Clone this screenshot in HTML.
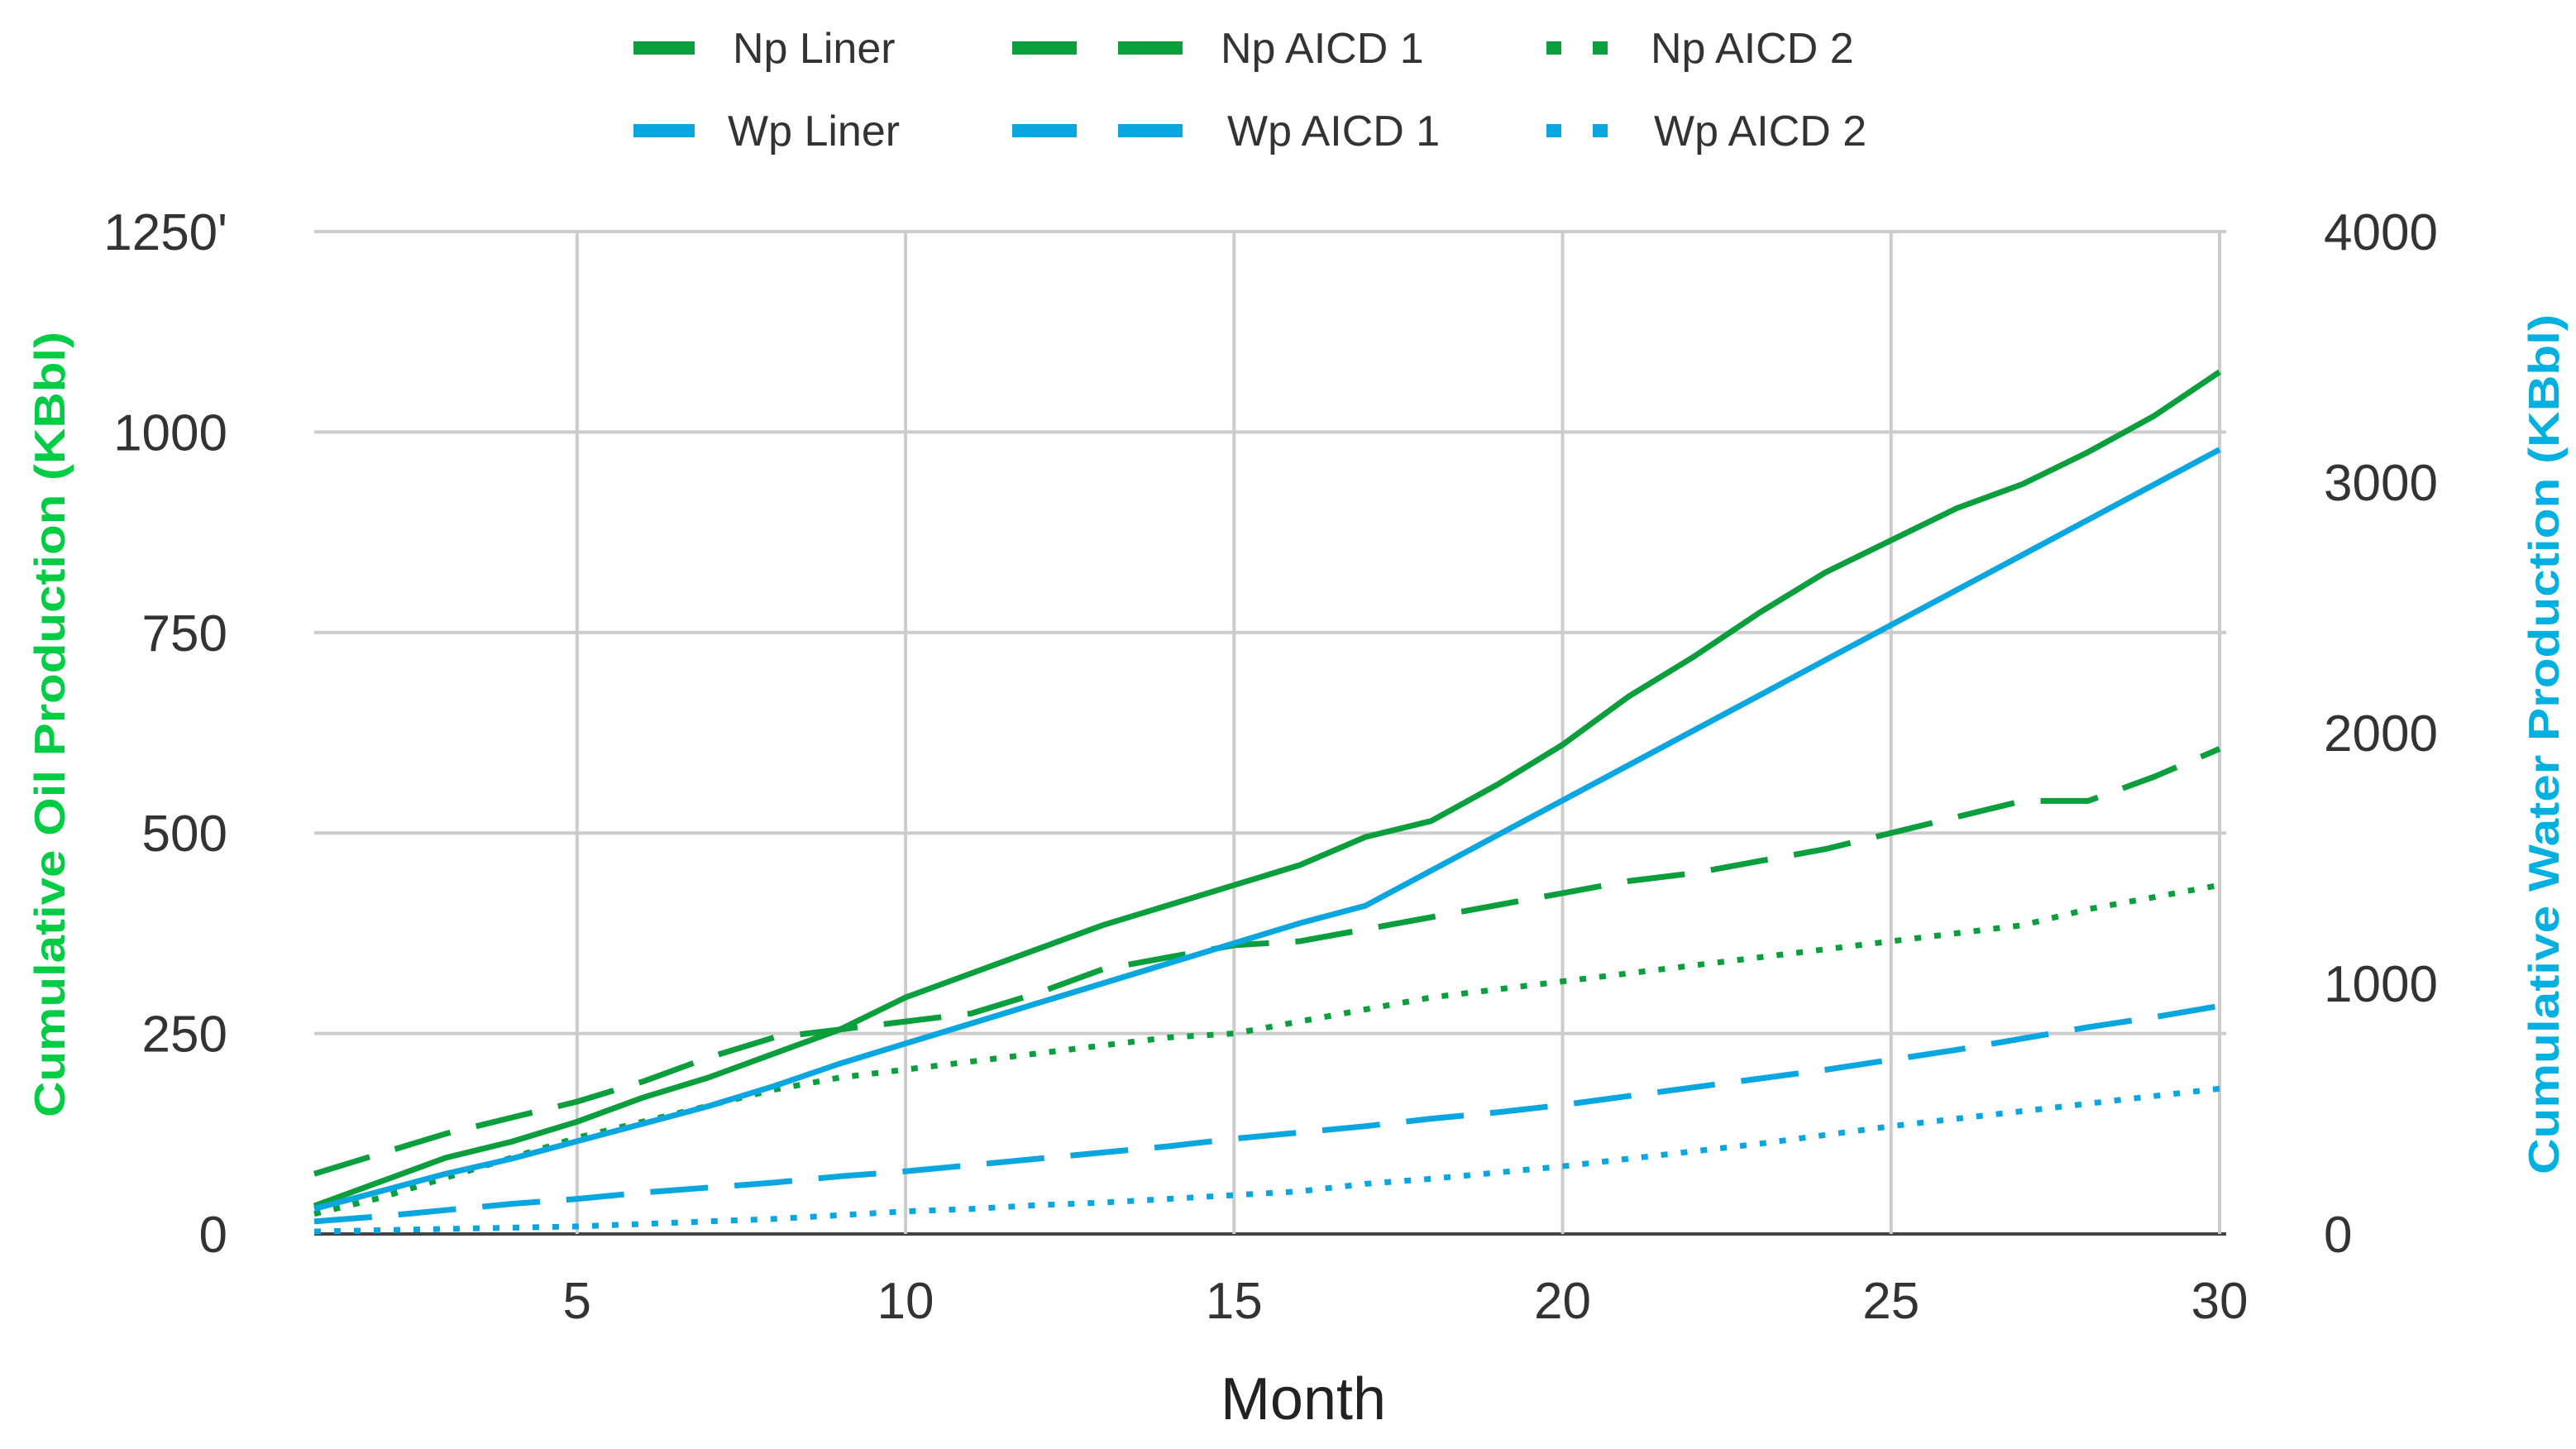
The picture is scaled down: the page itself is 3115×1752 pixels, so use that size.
<!DOCTYPE html>
<html><head><meta charset="utf-8"><style>
html,body{margin:0;padding:0;background:#fff;}
svg{display:block;font-family:"Liberation Sans",sans-serif;}
</style></head><body>
<svg id="chart" width="3115" height="1752" viewBox="0 0 3115 1752" xmlns="http://www.w3.org/2000/svg">
<g id="grid"></g>
<g id="series"></g>
<g id="axes"></g>
<g id="legend"></g>
</svg>
<script>
const months = [1,2,3,4,5,6,7,8,9,10,11,12,13,14,15,16,17,18,19,20,21,22,23,24,25,26,27,28,29,30];
const npLiner = [35,65,95,115,140,170,195,225,255,295,325,355,385,410,435,460,495,515,560,610,670,720,775,825,865,905,935,975,1020,1075];
const npAicd1 = [75,100,125,145,165,190,220,245,255,265,275,300,330,345,360,365,380,395,410,425,440,450,465,480,500,520,540,540,570,605];
const npAicd2 = [25,45,70,95,120,140,160,180,195,205,215,225,235,245,250,265,280,295,305,315,325,335,345,355,365,375,385,405,420,435];
const wpLiner = [100,170,240,300,370,440,510,590,680,760,840,920,1000,1080,1160,1240,1310,1450,1590,1730,1870,2010,2150,2290,2430,2570,2710,2850,2990,3130];
const wpAicd1 = [50,70,95,120,140,165,185,205,230,250,275,300,325,350,380,405,430,460,485,515,550,585,620,655,695,735,780,825,865,910];
const wpAicd2 = [10,15,20,25,30,40,50,60,75,90,100,115,125,140,155,170,200,220,245,270,300,330,360,395,430,460,490,520,550,580];
const xTicks = [5,10,15,20,25,30];
const leftTicks = [0,250,500,750,1000,1250];
const leftTickLabels = ["0","250","500","750","1000","1250'"];
const rightTicks = [0,1000,2000,3000,4000];

const NS="http://www.w3.org/2000/svg";
const L=380,R=2684,T=280,B=1492;
const xS=m=>L+(m-1)/29*(R-L);
const yL=v=>B-v/1250*(B-T);
const yR=v=>B-v/4000*(B-T);
function mk(tag,attrs,parent,text){const e=document.createElementNS(NS,tag);for(const k in attrs)e.setAttribute(k,attrs[k]);if(text!==undefined)e.textContent=text;parent.appendChild(e);return e;}
const grid=document.getElementById('grid'),axes=document.getElementById('axes'),series=document.getElementById('series'),legend=document.getElementById('legend');

leftTicks.forEach((v,i)=>{
  const g=mk('line',{x1:L,x2:R+8,y1:yL(v),y2:yL(v),stroke:v===0?'#444':'#cccccc','stroke-width':4},grid);
  
  
  const t=mk('text',{x:275,y:yL(v)+22,'text-anchor':'end','font-size':62,fill:'#333'},axes,leftTickLabels[i]);
  
  
});
xTicks.forEach(m=>{
  const g=mk('line',{x1:xS(m),x2:xS(m),y1:T,y2:B,stroke:'#cccccc','stroke-width':4},grid);
  
  
  const t=mk('text',{x:xS(m),y:1594,'text-anchor':'middle','font-size':62,fill:'#333'},axes,String(m));
  
  
});
rightTicks.forEach(v=>{
  const t=mk('text',{x:2810,y:yR(v)+22,'text-anchor':'start','font-size':62,fill:'#333'},axes,String(v));
  
  
});
let t=mk('text',{x:1576,y:1716,'text-anchor':'middle','font-size':72,fill:'#222'},axes,'Month');


t=mk('text',{x:0,y:0,'text-anchor':'middle','font-size':52,'font-weight':'bold',fill:'#00cc44',transform:'translate(78,876) rotate(-90)',textLength:950,lengthAdjust:'spacingAndGlyphs'},axes,'Cumulative Oil Production (KBbl)');


t=mk('text',{x:0,y:0,'text-anchor':'middle','font-size':52,'font-weight':'bold',fill:'#00b0e0',transform:'translate(3094,900) rotate(-90)',textLength:1040,lengthAdjust:'spacingAndGlyphs'},axes,'Cumulative Water Production (KBbl)');



const G='#0a9e3c',Bl='#0aa6e0';
const defs=[
 {d:npLiner,y:yL,c:G,dash:null,name:'np-liner-line'},
 {d:npAicd1,y:yL,c:G,dash:'70 32',name:'np-aicd1-line'},
 {d:npAicd2,y:yL,c:G,dash:'8 16',name:'np-aicd2-line'},
 {d:wpLiner,y:yR,c:Bl,dash:null,name:'wp-liner-line'},
 {d:wpAicd1,y:yR,c:Bl,dash:'70 32',name:'wp-aicd1-line'},
 {d:wpAicd2,y:yR,c:Bl,dash:'8 16',name:'wp-aicd2-line'}];
defs.forEach(s=>{
  const pts=months.map((m,i)=>xS(m).toFixed(1)+','+s.y(s.d[i]).toFixed(1)).join(' ');
  const a={points:pts,fill:'none',stroke:s.c,'stroke-width':7,'stroke-linejoin':'round'};
  if(s.dash)a['stroke-dasharray']=s.dash;
  const p=mk('polyline',a,series);
  
  
});

const leg=[
 {x:766,y:58,c:G,kind:'solid',tx:886,label:'Np Liner',n:'legend-np-liner'},
 {x:1224,y:58,c:G,kind:'dash',tx:1476,label:'Np  AICD 1',n:'legend-np-aicd1'},
 {x:1870,y:58,c:G,kind:'dot',tx:1996,label:'Np AICD 2',n:'legend-np-aicd2'},
 {x:766,y:158,c:Bl,kind:'solid',tx:880,label:'Wp Liner',n:'legend-wp-liner'},
 {x:1224,y:158,c:Bl,kind:'dash',tx:1484,label:'Wp AICD 1',n:'legend-wp-aicd1'},
 {x:1870,y:158,c:Bl,kind:'dot',tx:2000,label:'Wp AICD 2',n:'legend-wp-aicd2'}];
leg.forEach(e=>{
  const g=mk('g',{},legend);
  
  
  if(e.kind==='solid')mk('rect',{x:e.x,y:e.y-8,width:74,height:16,fill:e.c},g);
  if(e.kind==='dash'){mk('rect',{x:e.x,y:e.y-8,width:78,height:16,fill:e.c},g);mk('rect',{x:e.x+128,y:e.y-8,width:78,height:16,fill:e.c},g);}
  if(e.kind==='dot'){mk('rect',{x:e.x,y:e.y-8,width:18,height:16,fill:e.c},g);mk('rect',{x:e.x+56,y:e.y-8,width:18,height:16,fill:e.c},g);}
  mk('text',{x:e.tx,y:e.y+18,'font-size':52,fill:'#333'},g,e.label);
});
</script>
</body></html>
